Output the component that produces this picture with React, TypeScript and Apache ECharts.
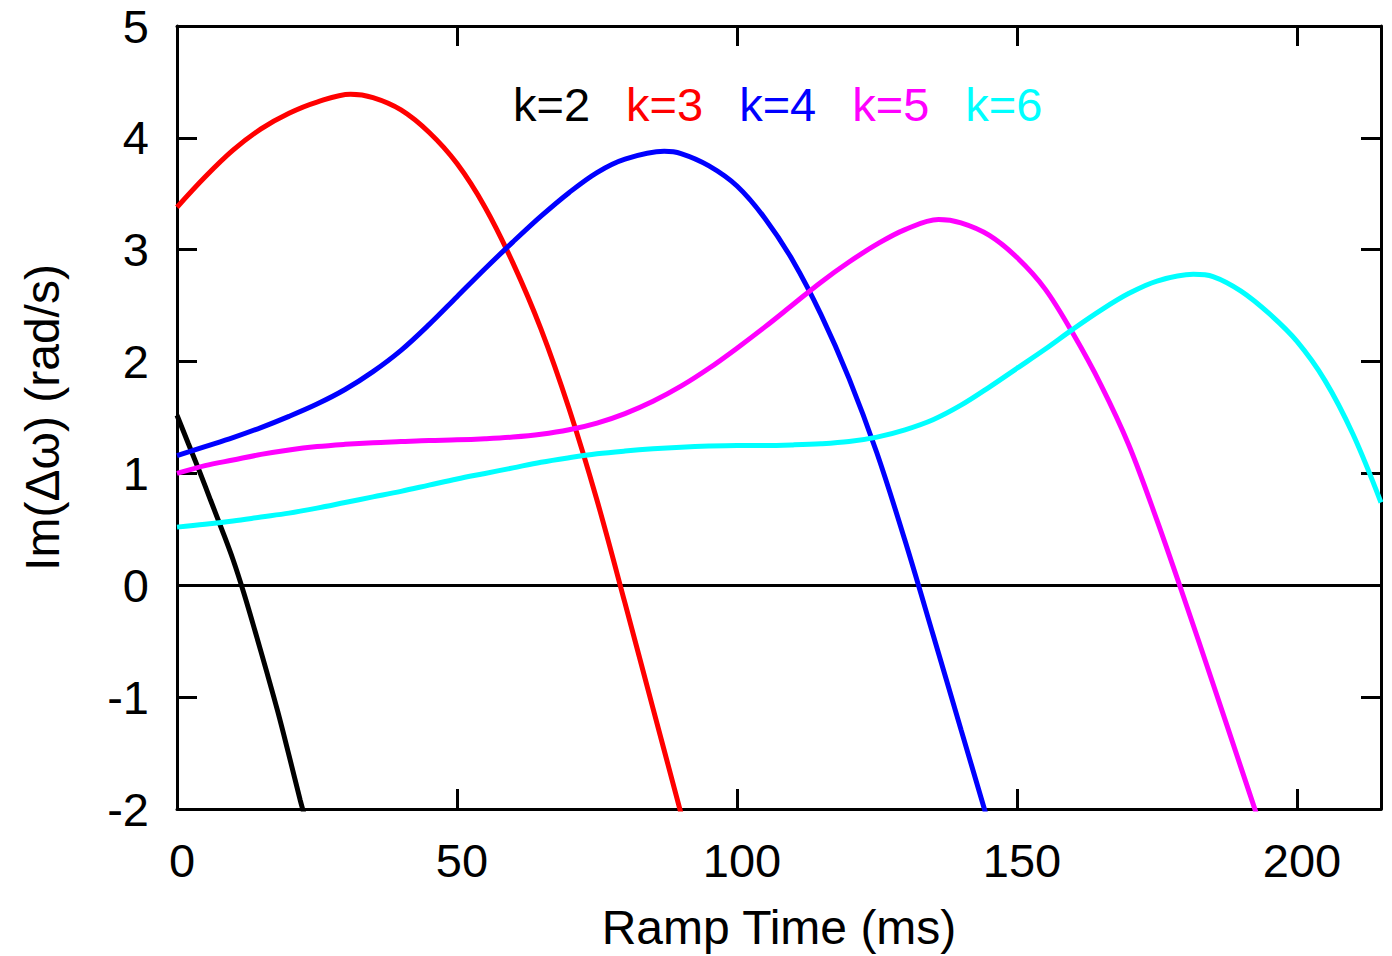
import React, { useEffect, useRef } from "react";
import * as echarts from "echarts";

// ---- data ----
const seriesNames = ["k=2", "k=3", "k=4", "k=5", "k=6"];
const seriesColors = ["#000000", "#ff0000", "#0000ff", "#ff00ff", "#00ffff"];

const k2X = [0, 2, 4, 6, 8, 10, 12, 14, 16, 18, 20, 22, 23];
const k2Y = [1.52, 1.27, 1.02, 0.76, 0.5, 0.23, -0.08, -0.42, -0.77, -1.13, -1.52, -1.92, -2.1];

const k3X = [0, 5, 10, 15, 20, 25, 31, 35, 40, 45, 50, 55, 60, 65, 70, 75, 80, 85, 90];
const k3Y = [3.38, 3.65, 3.89, 4.08, 4.22, 4.32, 4.39, 4.36, 4.25, 4.05, 3.77, 3.38, 2.88, 2.29, 1.58, 0.76, -0.16, -1.1, -2.04];

const k4X = [0, 5, 10, 15, 20, 25, 30, 35, 40, 45, 50, 55, 60, 65, 70, 75, 80, 87, 90, 95, 100, 105, 110, 115, 120, 125, 130, 135, 140, 145];
const k4Y = [1.16, 1.24, 1.32, 1.41, 1.51, 1.62, 1.75, 1.91, 2.1, 2.33, 2.58, 2.83, 3.07, 3.3, 3.51, 3.69, 3.81, 3.88, 3.86, 3.75, 3.57, 3.28, 2.9, 2.42, 1.85, 1.18, 0.4, -0.44, -1.29, -2.14];

const k5X = [0, 5, 10, 15, 20, 25, 30, 35, 40, 45, 50, 55, 60, 65, 70, 75, 80, 85, 90, 95, 100, 105, 110, 115, 120, 125, 130, 136, 140, 145, 150, 155, 160, 165, 170, 175, 180, 185, 190, 194];
const k5Y = [1.0, 1.07, 1.12, 1.17, 1.21, 1.24, 1.26, 1.275, 1.285, 1.295, 1.3, 1.31, 1.325, 1.35, 1.39, 1.45, 1.535, 1.645, 1.78, 1.94, 2.12, 2.31, 2.51, 2.71, 2.89, 3.05, 3.18, 3.27, 3.24, 3.13, 2.93, 2.65, 2.25, 1.79, 1.25, 0.58, -0.14, -0.88, -1.63, -2.23];

const k6X = [0, 5, 10, 15, 20, 25, 30, 35, 40, 45, 50, 55, 60, 65, 70, 75, 80, 85, 90, 95, 100, 105, 110, 115, 120, 125, 130, 135, 140, 145, 150, 155, 160, 165, 170, 175, 181.5, 185, 190, 195, 200, 205, 210, 215];
const k6Y = [0.52, 0.545, 0.575, 0.61, 0.645, 0.69, 0.74, 0.79, 0.84, 0.895, 0.95, 1.0, 1.05, 1.1, 1.14, 1.175, 1.2, 1.22, 1.235, 1.245, 1.25, 1.25, 1.255, 1.265, 1.285, 1.325, 1.39, 1.48, 1.61, 1.77, 1.94, 2.11, 2.29, 2.46, 2.61, 2.72, 2.78, 2.76, 2.63, 2.43, 2.18, 1.83, 1.35, 0.74];

const xs = [k2X, k3X, k4X, k5X, k6X];
const ys = [k2Y, k3Y, k4Y, k5Y, k6Y];

const xTickLabels = [0, 50, 100, 150, 200];
const yTickLabels = [-2, -1, 0, 1, 2, 3, 4, 5];

const FONT = "'Liberation Sans', Arial, Helvetica, sans-serif";
const FS = 47;

export default function App() {
  const ref = useRef<HTMLDivElement>(null);

  useEffect(() => {
    if (!ref.current) return;
    const chart = echarts.init(ref.current, null, { renderer: "svg" });

    const axisLine = { show: true, onZero: false, lineStyle: { color: "#000", width: 3 } };
    const axisTick = { show: true, inside: true, length: 20, lineStyle: { color: "#000", width: 3 } };

    const series: any[] = seriesNames.map((name, i) => ({
      name,
      type: "line",
      data: xs[i].map((x, j) => [x, ys[i][j]]),
      smooth: 0.35,
      symbol: "none",
      clip: true,
      lineStyle: { color: seriesColors[i], width: 5 },
      itemStyle: { color: seriesColors[i] },
      z: 3,
    }));
    series[0].markLine = {
      silent: true,
      symbol: "none",
      label: { show: false },
      lineStyle: { color: "#000", width: 3, type: "solid" },
      data: [{ yAxis: 0 }],
      z: 2,
    };

    chart.setOption({
      animation: false,
      backgroundColor: "#fff",
      textStyle: { fontFamily: FONT },
      grid: { left: 177, right: 11, top: 26, bottom: 146, containLabel: false },
      legend: {
        data: seriesNames.map((n, i) => ({ name: n, textStyle: { color: seriesColors[i] } })),
        left: 507,
        top: 81,
        padding: 0,
        itemWidth: 0,
        itemHeight: 0,
        itemGap: 30,
        selectedMode: false,
        textStyle: { fontSize: FS, fontFamily: FONT },
      },
      xAxis: [
        {
          type: "value",
          position: "bottom",
          min: 0,
          max: 215,
          interval: 50,
          axisLine,
          axisTick,
          splitLine: { show: false },
          axisLabel: {
            color: "#000",
            fontSize: FS,
            fontFamily: FONT,
            margin: 28,
            padding: [0, 0, 0, 10],
            showMaxLabel: false,
            formatter: (v: number) => (xTickLabels.includes(v) ? String(v) : ""),
          },
          name: "Ramp Time (ms)",
          nameLocation: "middle",
          nameGap: 94,
          nameTextStyle: { color: "#000", fontSize: 48, fontFamily: FONT },
        },
        {
          type: "value",
          position: "top",
          min: 0,
          max: 215,
          interval: 50,
          axisLine,
          axisTick,
          axisLabel: { show: false },
          splitLine: { show: false },
        },
      ],
      yAxis: [
        {
          type: "value",
          position: "left",
          min: -2,
          max: 5,
          interval: 1,
          axisLine,
          axisTick,
          splitLine: { show: false },
          axisLabel: {
            color: "#000",
            fontSize: FS,
            fontFamily: FONT,
            margin: 28,
            formatter: (v: number) => (yTickLabels.includes(v) ? String(v) : ""),
          },
          name: "Im(Δω) (rad/s)",
          nameLocation: "middle",
          nameGap: 111,
          nameTextStyle: { color: "#000", fontSize: 48, fontFamily: FONT },
        },
        {
          type: "value",
          position: "right",
          min: -2,
          max: 5,
          interval: 1,
          axisLine,
          axisTick,
          axisLabel: { show: false },
          splitLine: { show: false },
        },
      ],
      series,
    });

    return () => chart.dispose();
  }, []);

  return <div ref={ref} style={{ width: 1392, height: 956, position: "absolute", left: 0, top: 0 }} />;
}
